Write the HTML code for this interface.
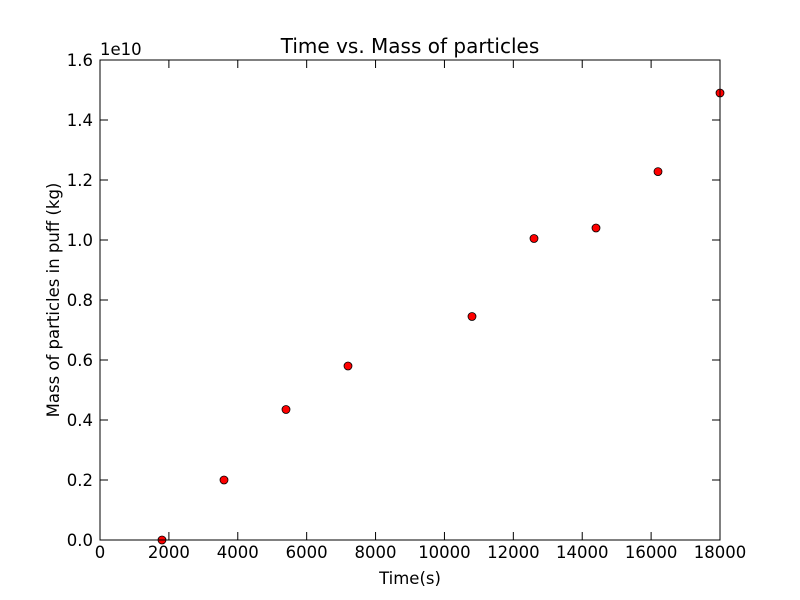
<!DOCTYPE html>
<html><head><meta charset="utf-8"><style>
body{margin:0;background:#fff;}
svg{display:block;font-family:"DejaVu Sans","Liberation Sans",sans-serif;}
</style></head><body>
<svg id="chart" width="800" height="600">
<rect width="800" height="600" fill="#fff"/>
<g id="ticks"></g>
<g id="points"></g>
<rect x="100" y="60" width="620" height="480" fill="none" stroke="#000" stroke-width="1"/>
<text x="410" y="53" text-anchor="middle" font-size="20">Time vs. Mass of particles</text>
<text x="410" y="584" text-anchor="middle" font-size="16.5">Time(s)</text>
<text transform="translate(59,300) rotate(-90)" text-anchor="middle" font-size="16.5">Mass of particles in puff (kg)</text>
<text x="100" y="55" font-size="16.5">1e10</text>
</svg>
<script>
const times=[1800,3600,5400,7200,10800,12600,14400,16200,18000];
const masses=[0.0,0.2,0.435,0.58,0.745,1.005,1.04,1.228,1.49];
const xTicks=[0,2000,4000,6000,8000,10000,12000,14000,16000,18000];
const yTicks=[0,0.2,0.4,0.6,0.8,1.0,1.2,1.4,1.6];
const yTickLabels=["0.0","0.2","0.4","0.6","0.8","1.0","1.2","1.4","1.6"];
const NS="http://www.w3.org/2000/svg";
const X=v=>100+v/18000*620, Y=v=>540-v/1.6*480;
const tg=document.getElementById('ticks'), pg=document.getElementById('points');
function mk(tag,attrs,parent){const e=document.createElementNS(NS,tag);for(const k in attrs)e.setAttribute(k,attrs[k]);parent.appendChild(e);return e;}
xTicks.forEach(t=>{const x=X(t);
 mk('line',{x1:x,y1:540,x2:x,y2:532,stroke:'#000'},tg);
 mk('line',{x1:x,y1:60,x2:x,y2:68,stroke:'#000'},tg);
 const l=mk('text',{x:x,y:558,'text-anchor':'middle','font-size':16.5},tg);l.textContent=t;
 
 
});
yTicks.forEach((t,i)=>{const y=Y(t);
 mk('line',{x1:100,y1:y,x2:108,y2:y,stroke:'#000'},tg);
 mk('line',{x1:720,y1:y,x2:712,y2:y,stroke:'#000'},tg);
 const l=mk('text',{x:93,y:y+6,'text-anchor':'end','font-size':16.5},tg);l.textContent=yTickLabels[i];
 
 
});
times.forEach((t,i)=>{
 const c=mk('circle',{cx:X(t),cy:Y(masses[i]),r:4,fill:'#ff0000',stroke:'#000','stroke-width':0.8},pg);
 
 
});
</script>
</body></html>
